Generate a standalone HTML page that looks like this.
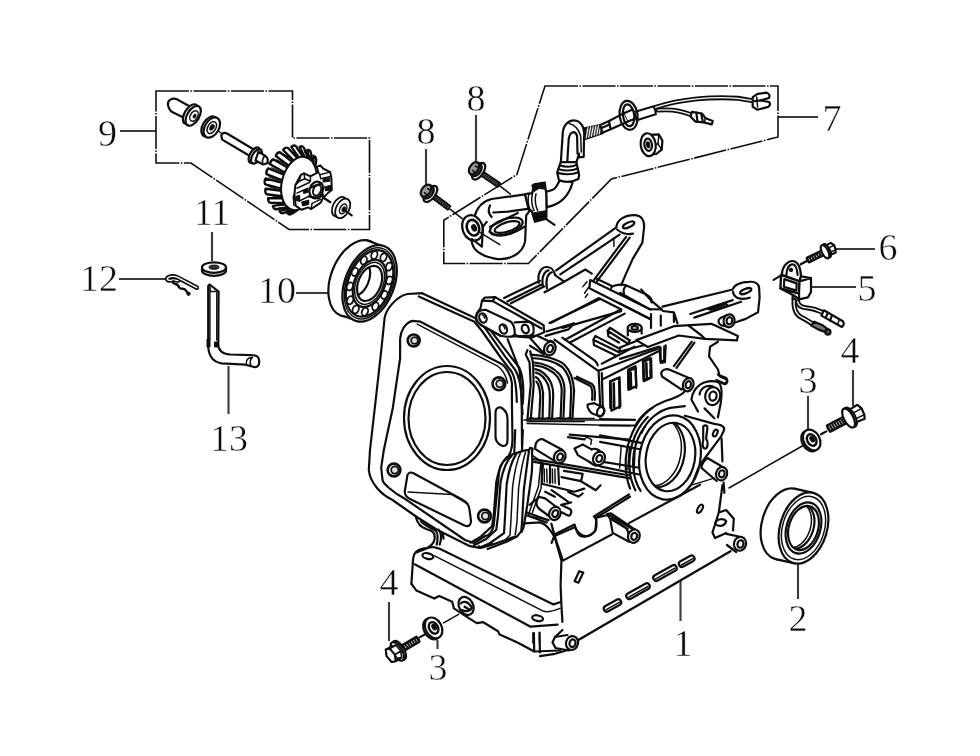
<!DOCTYPE html>
<html><head><meta charset="utf-8">
<style>
html,body{margin:0;padding:0;background:#fff;}
svg{display:block;}
text{font-family:"Liberation Serif",serif;font-size:38px;fill:#111;text-anchor:middle;stroke:#fff;stroke-width:0.45;}
.ld{stroke:#3a3a3a;stroke-width:2.1;fill:none;}
.dd{stroke:#111;stroke-width:1.6;fill:none;stroke-dasharray:33 1.5 1.5 1.5;}
.m{stroke:#111;stroke-width:2.2;fill:none;stroke-linejoin:round;stroke-linecap:round;}
.t{stroke:#111;stroke-width:1.5;fill:none;stroke-linejoin:round;stroke-linecap:round;}
.w{stroke:#111;stroke-width:2.2;fill:#fff;stroke-linejoin:round;stroke-linecap:round;}
.wt{stroke:#111;stroke-width:1.4;fill:#fff;stroke-linejoin:round;stroke-linecap:round;}
.k{fill:#111;stroke:#111;stroke-width:1;}
.b{stroke:#111;stroke-width:2.2;fill:none;stroke-linejoin:round;stroke-linecap:round;}
</style></head>
<body>
<svg width="980" height="756" viewBox="0 0 980 756">
<rect width="980" height="756" fill="#fff"/>
<defs><filter id="soft" x="0" y="0" width="980" height="756" filterUnits="userSpaceOnUse"><feGaussianBlur stdDeviation="0.55"/></filter></defs>
<g filter="url(#soft)">
<g id="labels">
<text x="107.5" y="146">9</text>
<text x="212" y="225">11</text>
<text x="99" y="291">12</text>
<text x="277" y="303">10</text>
<text x="229" y="451">13</text>
<text x="476" y="111">8</text>
<text x="426" y="144">8</text>
<text x="832" y="131">7</text>
<text x="888" y="260">6</text>
<text x="867" y="301">5</text>
<text x="850" y="362.5">4</text>
<text x="808" y="392.5">3</text>
<text x="798" y="631">2</text>
<text x="683" y="656">1</text>
<text x="389" y="595">4</text>
<text x="438" y="680">3</text>
</g>
<g id="leaders" class="ld">
<path d="M120 131H156"/>
<path d="M212 232V261"/>
<path d="M119 279H165"/>
<path d="M296 293H328"/>
<path d="M228.5 366V414"/>
<path d="M476 115V162"/>
<path d="M426 149V185"/>
<path d="M778 117H818"/>
<path d="M834 249H875"/>
<path d="M810 287H856"/>
<path d="M853 370V406"/>
<path d="M808 396V429"/>
<path d="M798 564V599"/>
<path d="M680.5 580V621"/>
<path d="M389 602V641"/>
<path d="M437.5 640V649"/>
</g>
<g id="boxes" class="dd">
<path d="M156 91H292.5V138H369.5V229.5H289L191 163H156Z"/>
<path d="M545 86H778V137L611.4 179L528.4 263.5H443.8V220.2L516.9 174.5Z"/>
</g>
<g id="p01a_flange">
<!-- outer flange plate -->
<path class="w" d="M374.8 408L381.3 350L384.6 318C386 309 397 296 407.4 294L422.1 293.2L477.7 319.3L485.8 329.1L505.4 356.8L515.2 369.9C519 376 521 385 521.7 399L522 446L506 460L496 486L494.5 524L480 548L470 546.2L437.5 530L417.5 517.5L392.5 500C380 494 370 482 368.8 470L370 450Z" style="stroke:none"/>
<path class="m" d="M522 446L521.7 399C521 385 519 376 515.2 369.9L505.4 356.8L485.8 329.1L477.7 319.3L422.1 293.2L407.4 294C397 296 386 309 384.6 318L381.3 350L374.8 408L370 450L368.8 470C370 482 380 494 392.5 500L417.5 517.5L437.5 530L470 546.2L480 548L492 543"/>
<path class="m" d="M418.8 296.5L474.4 321.7L482 331L501 358L511.5 371.5C515 377 516.5 388 516.8 402"/>
<!-- gasket face -->
<path class="m" d="M392.8 408L396 386L400.1 358.5V339C400.5 331 405 323 412.3 320.9L420.5 321.7L500.5 363.4C506 366 511 375 511.9 383V402.6L512.5 440C512 452 508 458 505 460C500 464 499 470 498.8 475L495 512.5L493.8 525C492 533 488 536 485 536.2L473.8 543L465 540L405 498.8C392 492 383 483 382.5 480L381.2 467.5L383.8 450Z"/>
<path class="t" d="M417.2 324.2L497.2 365.8C502 368.5 506.5 376 507.5 383"/>
<!-- bore -->
<ellipse class="m" cx="447" cy="418" rx="43" ry="52"/>
<ellipse class="m" cx="447" cy="418.5" rx="38.5" ry="46.5"/>
<!-- bolt holes -->
<circle class="m" cx="413.7" cy="340.5" r="6" style="stroke-width:2.6"/><circle class="t" cx="414.5" cy="340.5" r="3.4" style="fill:#ddd;stroke-width:1.8"/>
<circle class="m" cx="498.9" cy="383.8" r="6.4" style="stroke-width:2.6"/><circle class="t" cx="499.8" cy="383.8" r="3.6" style="fill:#ddd;stroke-width:1.8"/>
<circle class="m" cx="394" cy="470" r="6.4" style="stroke-width:2.6"/><circle class="t" cx="394.8" cy="470" r="3.6" style="fill:#ddd;stroke-width:1.8"/>
<circle class="m" cx="484.5" cy="516" r="6.4" style="stroke-width:2.6"/><circle class="t" cx="485.3" cy="516" r="3.6" style="fill:#ddd;stroke-width:1.8"/>
<!-- slot -->
<path class="m" d="M495.5 413C495.5 408 499 406 502.5 408.5C506 411 507.5 414 507.5 419V440C507.5 445 505 447 501.5 445.5C498 444 495.5 441 495.5 436Z"/>
<!-- pushrod window -->
<path class="m" d="M407 478C407 473.5 409.5 471.5 413 473L462 499.5C466.5 502 469 505 469.5 509.5L471 521C471 525.5 468.5 527 464.5 525.5L410 499C406 497 404.5 494.5 404.8 491Z"/>
<path class="t" d="M408 492L452 494.5M452 494.5L468 504"/>

</g>
<g id="p01b_toparm">
<path class="w" d="M 616.3 227.0 C 617.1 219.7 624.5 215.1 634.3 215.1 C 641.6 215.1 644.4 220.5 644.1 227.0 L 642.4 242.6 L 632.7 258.9 L 626.1 273.6 L 621.2 285.0" />
<ellipse class="m" cx="628.6" cy="224.9" rx="6.2" ry="2.4" transform="rotate(-25 628.6 224.9)" />
<path class="m" d="M 617.1 229.5 Q 624.5 235.7 633.0 233.6" />
<path class="m" d="M 616.3 227.4 L 556.2 270.3 M 619.6 234.7 L 560.3 274.4" />
<path class="m" d="M 626.1 236.8 L 593.8 280.1 M 629.7 237.7 L 597.1 281.1" />
<path class="t" d="M 613.9 237.7 L 613.9 246.6" />
<path class="w" d="M 538.8 283.0 C 537.1 273.6 541.2 267.4 546.1 267.0 C 550.2 266.7 554.0 269.5 555.1 275.2 L 564.1 281.7 L 544.5 292.3" />
<path class="m" d="M 542.9 285.8 C 541.2 276.8 544.5 271.1 548.6 270.3 M 546.9 288.3 C 545.3 279.3 547.8 273.6 551.8 272.3" />
<path class="m" d="M 504.1 298.0 L 540.0 280.8 M 507.3 301.6 L 541.6 284.4 M 510.9 303.3 L 544.1 286.5" />
<path class="m" d="M 564.1 281.7 L 585.3 269.5 L 591.8 273.6" />
<path class="m" d="M 590.2 280.1 L 650.6 309.5 M 590.2 280.1 L 589.4 288.3 L 650.6 319.3 M 596.7 278.8 L 611.4 285.8" />
<path class="m" d="M 611.2 288.0 C 612.0 285.0 622.5 283.5 626.5 285.5 L 646.2 294.5 C 650.0 296.5 652.0 299.5 651.5 302.5 M 626.5 285.5 C 624.0 287.5 623.0 290.5 624.0 293.5" />
<path class="t" d="M 582.9 286.6 L 586.9 281.7 M 584.5 293.2 L 588.6 287.4 M 585.3 297.2 L 587.8 294.0" />
<path class="m" d="M 549.4 322.9 L 600.0 298.9 M 562.4 327.9 L 621.2 311.1" />
</g>
<g id="p01c_rightarm">
<path class="w" d="M 662.4 306.6 L 732.7 289.5 C 734.3 284.6 740.8 282.1 749.0 281.8 C 755.5 281.3 758.8 283.8 759.1 287.9 L 759.6 297.7 L 758.0 312.3 L 745.7 318.9 L 735.1 322.5" />
<ellipse class="m" cx="745.7" cy="291.1" rx="6" ry="2.2" transform="rotate(-22 745.7 291.1)" />
<path class="m" d="M 733.0 291.9 C 734.3 297.7 739.2 300.6 749.8 297.7" />
<path class="m" d="M 732.7 300.1 L 690.2 314.0 M 741.1 301.7 L 694.3 317.6 M 709.0 309.4 L 726.1 303.9 L 727.8 305.8 L 711.4 311.0" />
<path class="w" d="M 726.9 315.3 L 720.4 318.1 C 717.6 319.7 718.0 323.4 720.9 325.1 L 727.8 326.7" />
<ellipse class="w" cx="729.1" cy="320.8" rx="5.5" ry="6.5" transform="rotate(10 729.1 320.8)" />
<ellipse class="m" cx="729.4" cy="320.8" rx="2.8" ry="3.6" transform="rotate(10 729.4 320.8)" />
<path class="m" d="M 641.2 289.5 L 650.7 300.1 L 661.6 309.4" />
<path class="m" d="M 620.0 292.8 L 649.4 309.1 L 661.6 309.4 M 620.0 303.4 L 650.2 318.9 M 651.0 314.0 L 651.0 327.9 M 660.8 315.6 L 660.8 325.7 M 662.8 311.0 L 673.9 312.3 L 677.5 323.4 M 673.9 312.3 L 673.9 322.1" />
<path class="m" d="M 627.8 327.9 L 627.8 335.5 M 641.6 327.9 L 641.6 333.6" />
<ellipse class="w" cx="634.7" cy="327.9" rx="7" ry="4" transform="rotate(0 634.7 327.9)" />
<ellipse class="m" cx="634.7" cy="327.9" rx="3.2" ry="1.8" transform="rotate(0 634.7 327.9)" />
<path class="w" d="M 636.3 340.1 L 673.9 326.2 L 711.4 323.8 L 737.9 336.0 L 736.9 340.4 L 704.9 338.8 L 678.8 335.5 L 647.8 347.0 Z" />
<path class="m" d="M 688.6 325.7 L 701.6 335.5 L 704.9 338.8" />
<path class="m" d="M 620.0 347.4 L 636.3 340.9 M 620.0 358.9 L 659.2 346.6 L 660.8 363.0 L 664.9 362.1 L 665.7 345.3 M 620.0 351.5 L 644.5 345.0" />
<path class="m" d="M 642.9 361.3 L 650.2 358.1 L 651.0 377.7 L 643.7 381.2 Z M 646.1 363.3 L 646.9 378.0" />
<path class="m" d="M 628.2 369.5 L 635.5 366.2 L 636.3 387.9 M 629.5 370.3 L 629.8 387.9" />
<path class="m" d="M 691.8 341.7 L 673.9 366.2 M 694.4 342.7 L 676.5 367.9" />
<path class="m" d="M 718.0 341.7 L 710.1 346.6 L 709.0 356.4 L 718.0 369.5 L 719.6 376.0" />
<path class="m" d="M 718.0 374.7 L 725.8 377.7 C 728.1 379.3 726.9 383.9 724.2 383.2 L 716.3 380.1" />
</g>
<g id="p01d_crank">
<path class="m" d="M 635.1 426.3 C 640.8 414.1 653.9 405.1 665.3 401.0 C 673.5 398.6 681.6 396.1 684.9 391.2" />
<path class="m" d="M 641.6 432.9 C 647.3 419.0 658.8 410.8 670.2 407.9 L 684.9 406.2" />
<path class="m" d="M 649.0 438.6 C 653.9 425.5 665.3 417.3 678.4 416.5" />
<path class="m" d="M 600.0 419.0 L 635.1 419.8 M 600.0 425.5 L 634.3 425.5 M 600.0 435.3 L 646.5 443.8 M 600.0 441.8 L 644.1 450.0 M 600.0 461.4 L 640.8 468.0 M 600.0 466.3 L 639.2 474.5" />
<path class="t" d="M 621.2 446.7 L 619.6 468.0 M 629.4 446.7 L 627.8 469.6 M 635.1 448.4 L 634.0 471.2" />
<path class="w" d="M 684.9 415.7 L 714.3 423.9 C 721.6 424.7 725.4 426.8 723.8 430.7 L 720.8 436.9 L 706.1 456.5 L 698.0 468.0" />
<path class="m" d="M 703.2 426.3 C 705.3 424.7 707.8 425.5 707.4 428.0 L 706.1 438.6 C 708.6 441.8 707.8 448.0 705.3 448.7 C 702.9 448.7 702.0 445.1 703.2 440.2 Z" />
<ellipse class="m" cx="715.3" cy="433.0" rx="2" ry="3.6" transform="rotate(25 715.3 433.0)" />
<path class="m" d="M640.7 490.8 L639.3 488.7 L638.1 486.4 L637.1 484.0 L636.1 481.5 L635.3 478.9 L634.6 476.2 L634.0 473.4 L633.6 470.6 L633.3 467.7 L633.1 464.8 L633.1 461.9 L633.2 458.9 L633.5 456.0 L633.9 453.0 L634.4 450.1 L635.1 447.2 L635.9 444.3 L636.8 441.6 L637.9 438.8 L639.1 436.2 L640.4 433.6 L641.8 431.1 L643.3 428.8 L644.9 426.5"/>
<path class="m" d="M635.4 490.3 L634.1 487.5 L633.0 484.7 L632.0 481.7 L631.1 478.6 L630.4 475.4 L629.9 472.2 L629.6 468.8 L629.4 465.5 L629.4 462.1 L629.6 458.7 L629.9 455.2 L630.4 451.8 L631.0 448.4 L631.9 445.1 L632.8 441.8 L634.0 438.6 L635.2 435.5 L636.7 432.5 L638.2 429.5 L639.9 426.8 L641.7 424.1 L643.7 421.6 L645.7 419.2 L647.8 417.1"/>
<path class="m" d="M630.1 488.6 L628.9 485.2 L627.9 481.7 L627.0 478.1 L626.4 474.4 L626.0 470.6 L625.7 466.8 L625.7 462.9 L625.8 459.0 L626.2 455.1 L626.8 451.2 L627.5 447.3 L628.5 443.5 L629.6 439.7 L631.0 436.1 L632.5 432.5 L634.1 429.1 L636.0 425.8 L638.0 422.6 L640.1 419.7 L642.4 416.9 L644.7 414.3 L647.2 411.9 L649.8 409.7 L652.5 407.8"/>
<ellipse class="w" cx="670" cy="457.5" rx="30.5" ry="42.5" transform="rotate(10 670 457.5)"/>
<ellipse class="m" cx="670.5" cy="457" rx="24.5" ry="34.5" transform="rotate(10 670.5 457)"/>
<clipPath id="crkclip"><ellipse cx="670.5" cy="457" rx="24.5" ry="34.5" transform="rotate(10 670.5 457)"/></clipPath>
<g clip-path="url(#crkclip)"><ellipse class="m" cx="660" cy="453" rx="24.5" ry="34.5" transform="rotate(10 660 453)"/><ellipse class="t" cx="656.5" cy="451.5" rx="24.5" ry="34.5" transform="rotate(10 656.5 451.5)"/></g>
<path class="t" d="M 698.0 468.0 L 691.4 485.1 L 714.3 478.1" />
<path class="m" d="M 707.8 458.2 L 721.1 466.0 M 701.6 468.0 L 716.7 481.0" />
<path class="m" d="M 707.8 458.2 C 704.5 459.8 701.2 464.7 701.6 468.0" />
<ellipse class="w" cx="721.6" cy="473.7" rx="5.5" ry="6.8" transform="rotate(15 721.6 473.7)" />
<ellipse class="m" cx="721.8" cy="473.8" rx="2.8" ry="3.6" transform="rotate(15 721.8 473.8)" />
<path class="w" d="M 661.2 373.3 C 662.0 369.2 666.9 368.4 670.2 370.0 L 691.4 379.0 L 681.6 389.6 L 662.0 376.5 Z" />
<ellipse class="w" cx="688.2" cy="384.7" rx="5.2" ry="6.8" transform="rotate(20 688.2 384.7)" />
<ellipse class="m" cx="688.3" cy="384.7" rx="2.6" ry="3.6" transform="rotate(20 688.3 384.7)" />
<path class="m" d="M 691.4 399.4 C 693.1 386.3 704.5 379.0 717.6 381.8 C 721.6 383.9 722.4 391.2 720.8 402.7 L 717.9 417.3 M 691.4 399.4 L 698.0 411.6 M 704.5 408.4 L 714.3 418.2" />
<ellipse class="w" cx="712.7" cy="396.1" rx="7.5" ry="9" transform="rotate(10 712.7 396.1)" />
<ellipse class="m" cx="713.0" cy="396.1" rx="3.6" ry="4.6" transform="rotate(10 713.0 396.1)" />
<path class="m" d="M 699.6 394.5 C 700.4 388.0 706.1 384.7 712.7 386.3" />
<path class="m" d="M 720.0 376.5 L 725.7 379.0 C 728.7 380.6 727.0 385.0 724.1 384.0 L 718.4 381.4" />
<path class="m" d="M 721.6 438.6 L 722.4 461.4 M 723.6 482.7 L 724.4 492.9" />
<path class="m" d="M 610.6 381.4 L 619.6 377.3 L 620.4 406.2 L 611.4 410.8 Z M 613.9 383.4 L 614.4 407.9" />
<path class="m" d="M 628.6 370.0 L 629.1 389.6 L 636.2 386.3 L 635.9 370.0 M 643.3 370.0 L 643.8 380.1 L 650.6 377.3 L 650.3 370.0" />
</g>
<g id="p01e_box">
<path class="m" d="M 551.2 322.9 L 598.6 298.1 L 621.4 309.5 M 546.3 331.5 L 574.1 323.4 L 568.4 329.4 L 545.5 335.9" />
<path class="m" d="M 565.1 339.7 L 620.6 309.5 M 570.0 342.5 L 624.7 313.6" />
<path class="m" d="M 554.5 339.7 L 597.8 370.7 M 562.3 337.6 L 594.5 360.4 C 596.1 361.7 597.3 363.0 597.8 365.3" />
<path class="m" d="M 598.6 370.7 L 657.3 349.0 M 601.8 363.7 L 634.5 346.7 M 602.2 379.4 L 659.0 351.1" />
<path class="m" d="M 598.6 370.7 L 600.2 406.6 M 601.8 373.2 L 602.8 406.6" />
<path class="m" d="M 593.3 339.7 L 595.3 335.9 L 620.1 349.0 L 619.0 352.3 Z M 593.3 339.7 L 594.0 345.1 L 615.7 355.5" />
<path class="m" d="M 607.6 330.7 L 610.0 327.8 L 629.9 340.5 L 628.0 343.8 Z M 607.7 331.0 L 608.4 336.4 L 619.0 342.5" />
<path class="m" d="M 610.0 381.3 L 619.0 377.7 L 619.5 407.9 M 610.0 381.3 L 610.3 407.9 M 613.6 383.3 L 613.9 407.9" />
<path class="m" d="M 628.0 371.5 L 635.8 367.9 L 636.1 386.2 L 628.3 389.8 Z M 630.9 372.8 L 631.2 387.5" />
<path class="m" d="M 643.5 361.7 L 651.1 358.5 L 651.6 377.2 L 644.0 380.5 Z M 646.4 363.0 L 646.7 378.4" />
<path class="m" d="M 660.6 347.4 L 660.6 361.7 L 664.2 360.4 L 664.2 346.7" />
<path class="m" d="M 533.3 334.0 L 547.1 340.8 M 530.0 345.7 L 543.9 354.4" />
<ellipse class="w" cx="549.6" cy="347.9" rx="5.5" ry="7" transform="rotate(15 549.6 347.9)" />
<ellipse class="m" cx="549.9" cy="348.0" rx="2.8" ry="3.6" transform="rotate(15 549.9 348.0)" />
<path class="m" d="M 574.5 378.0 L 590.0 385.7 C 592.1 387.3 592.8 391.4 592.1 399.9 M 576.9 376.7 L 592.1 384.1 C 594.7 386.2 595.4 391.4 594.7 399.9" />
<path class="w" d="M 587.6 404.5 C 586.7 407.8 590.0 412.7 594.1 414.3 L 600.6 416.2 C 604.7 414.3 605.5 409.4 602.2 406.9 L 594.1 403.2 Z" />
<ellipse class="m" cx="600.6" cy="411.8" rx="3.5" ry="5" transform="rotate(20 600.6 411.8)" />
</g>
<g id="p01f_fins">
<path class="m" d="M 507.6 339.2 L 519.0 368.6 C 521.4 378.4 520.9 398.0 522.6 414.3" />
<path class="m" d="M 489.6 329.1 L 506.2 350.9 L 519.0 367.3 C 523.6 376.7 524.2 388.2 522.6 404.5" />
<path class="m" d="M 527.4 350.1 L 525.7 354.6 L 529.6 362.5 L 530.7 385.0 L 527.4 419.3 M 530.2 351.2 L 533.0 362.5 L 533.7 385.0 L 530.7 419.3" />
<path class="m" d="M 530.7 354.6 C 543.1 355.2 557.7 359.1 564.5 364.7 C 570.1 370.4 573.5 379.4 574.1 390.6 L 572.4 418.7" />
<path class="m" d="M 531.9 358.0 C 543.1 358.6 555.5 361.9 562.2 367.0 C 567.3 372.1 570.7 380.5 571.2 390.6 L 570.1 418.7" />
<path class="m" d="M 534.1 362.5 C 544.2 363.1 554.4 368.1 560.0 374.9 C 563.4 379.9 564.7 385.0 564.5 390.6 L 563.4 418.7" />
<path class="m" d="M 535.2 365.3 C 544.2 366.4 552.7 370.9 557.7 377.1 C 560.9 382.2 561.8 386.1 561.7 390.6 L 560.6 418.7" />
<path class="m" d="M 535.2 369.2 C 542.0 370.4 547.6 376.0 551.0 382.7 C 553.0 387.8 553.5 391.7 553.2 396.2 L 552.1 418.7" />
<path class="m" d="M 535.8 372.6 C 540.9 373.7 545.4 378.8 548.2 385.0 C 549.6 389.5 550.1 392.9 549.9 397.4 L 549.3 418.7" />
<path class="m" d="M 535.8 377.1 C 539.2 378.8 542.0 385.0 543.1 392.9 L 542.6 418.7" />
<path class="m" d="M 536.4 381.6 C 538.6 383.9 540.0 389.5 540.3 396.2 L 539.2 418.7" />
<path class="t" d="M 527.4 419.3 L 531.9 417.6 L 535.2 419.3 L 539.2 417.6 L 542.6 419.3 L 549.3 417.6 L 552.1 419.3 L 560.6 417.6 L 563.4 419.3 L 570.1 417.6 L 572.4 419.3" />
<path class="t" d="M 528.0 418.4 L 594.1 418.4 M 527.1 421.6 L 584.3 421.6" />
</g>
<g id="p01g_lowfins">
<path class="m" d="M 515.2 430.0 L 514.3 452.3 M 522.9 430.0 L 522.0 449.3" />
<path class="m" d="M 506.6 457.5 L 513.4 454.1 L 523.8 450.6 L 529.3 449.9 L 530.0 447.9 L 532.7 448.6 L 532.0 452.3" />
<path class="m" d="M 506.6 457.5 C 501.4 461.8 498.8 469.5 496.3 481.6 L 493.7 516.0 L 492.0 526.3 L 480.8 536.6 L 470.5 542.6" />
<path class="m" d="M 511.7 455.8 C 506.2 460.9 503.1 469.5 500.6 481.6 L 498.0 516.0 L 496.3 529.7 L 485.9 539.2 L 473.9 545.2" />
<path class="m" d="M 516.0 454.4 C 511.7 460.9 508.6 471.3 506.6 485.0 L 504.9 519.4 L 504.0 533.1 L 489.4 543.5 L 479.1 547.8" />
<path class="t" d="M 520.3 453.2 C 516.9 460.9 514.3 473.0 512.6 486.7 L 510.9 521.1 L 510.0 534.9 L 505.2 540.0" />
<path class="t" d="M 525.5 452.3 C 522.9 460.9 520.3 474.7 518.6 488.4 L 516.9 522.8 L 515.2 534.9" />
<path class="m" d="M 528.9 451.5 C 527.5 460.9 525.5 476.4 523.8 490.2 L 522.0 522.8 L 521.2 531.4 L 516.9 536.6 L 506.6 541.7 L 487.7 549.0" />
<path class="m" d="M 532.0 452.3 C 532.7 464.4 531.5 476.4 530.6 481.6 L 527.2 505.6 L 523.8 526.3 L 521.7 531.8" />
<path class="t" d="M 533.2 455.8 L 541.0 461.8 L 538.4 486.7 L 529.8 510.8 L 528.1 516.0 L 548.7 519.7 M 535.8 457.5 L 543.5 463.5 L 541.0 488.4 L 532.4 512.5" />
<path class="w" d="M 535.3 449.1 C 534.5 442.9 538.6 438.0 542.7 439.3 L 562.2 449.7 L 554.9 461.1 Z" />
<ellipse class="w" cx="559.8" cy="456.7" rx="5.6" ry="6.8" transform="rotate(25 559.8 456.7)" />
<ellipse class="m" cx="560.1" cy="456.9" rx="2.8" ry="3.6" transform="rotate(25 560.1 456.9)" />
<path class="m" d="M 582.7 444.5 L 591.6 449.4 M 577.8 455.1 L 590.8 462.8 M 582.7 444.5 L 574.5 448.6 L 577.8 455.1" />
<path class="t" d="M 584.3 439.6 L 586.7 437.1 L 591.6 439.6 L 590.8 444.5" />
<ellipse class="w" cx="599.0" cy="458.4" rx="5.8" ry="7" transform="rotate(25 599.0 458.4)" />
<ellipse class="m" cx="599.3" cy="458.5" rx="2.8" ry="3.6" transform="rotate(25 599.3 458.5)" />
<path class="m" d="M 591.6 449.4 C 594.1 447.8 599.0 449.4 600.6 451.8 M 590.8 462.8 C 592.4 464.9 596.5 466.0 599.0 465.4" />
<path class="m" d="M 533.7 459.2 L 630.0 475.5 M 534.0 461.8 L 630.0 478.4" />
<path class="m" d="M 569.6 434.7 L 630.0 439.6 M 568.0 437.1 L 584.3 439.3" />
<path class="t" d="M 523.9 420.0 L 630.0 420.0 M 527.1 423.6 L 630.0 425.7" />
<path class="m" d="M 541.8 464.1 L 541.8 483.7 M 550.0 465.7 L 550.0 482.9 M 558.2 467.3 L 559.0 484.5 M 541.8 483.7 L 574.5 491.8 L 584.3 488.6 M 561.4 477.1 L 581.0 481.2 L 582.7 473.9 L 563.9 470.9 M 581.0 481.2 L 595.7 490.2 L 600.6 485.3 M 568.0 491.8 L 578.6 496.7 L 582.7 493.5" />
<path class="t" d="M 544.3 469.0 L 544.3 482.0 M 546.7 469.0 L 547.1 482.4 M 552.4 469.0 L 552.6 482.9 M 554.9 469.0 L 555.2 483.3" />
<path class="w" d="M 538.6 496.7 C 535.3 501.6 536.1 506.5 539.4 509.0 L 551.6 518.0 L 559.0 509.0 L 545.1 498.4 Z" />
<ellipse class="w" cx="554.9" cy="513.4" rx="5.6" ry="6.8" transform="rotate(25 554.9 513.4)" />
<ellipse class="m" cx="555.2" cy="513.6" rx="2.8" ry="3.6" transform="rotate(25 555.2 513.6)" />
<path class="m" d="M 526.3 512.2 L 548.4 520.4 M 529.6 504.9 L 538.6 497.6 M 527.1 515.5 L 546.7 522.5" />
<path class="w" d="M 561.4 504.9 L 569.9 509.0 C 572.5 510.6 570.9 516.3 568.0 515.5 L 560.6 511.8" />
<path class="m" d="M 545.1 491.8 L 554.9 496.7 M 551.6 490.2 L 568.0 501.6 M 561.4 504.9 L 571.2 502.4" />
<path class="m" d="M 554.9 534.3 L 574.5 524.5 C 576.1 532.7 584.3 539.2 591.6 534.3 C 596.5 531.0 597.3 524.5 595.7 518.0 L 616.9 504.9 M 595.7 518.0 L 608.8 514.7" />
<path class="m" d="M 608.8 514.7 L 630.0 526.1 M 612.0 519.6 L 626.7 528.6 L 630.0 537.6 M 616.9 504.9 L 630.0 496.7" />
<path class="m" d="M 554.9 534.3 L 551.6 542.9" />
</g>
<g id="p01h_base">
<path class="m" d="M 411.4 583.9 L 413.1 558.6 C 413.4 553.7 416.3 549.9 422.9 548.6 L 433.5 547.0 L 439.2 548.6 L 553.5 604.4 L 560.0 602.2" />
<path class="t" d="M 434.6 555.8 L 543.7 611.3 C 546.9 612.4 551.8 611.6 560.0 608.4" />
<path class="m" d="M 414.7 564.3 L 530.6 626.7 L 557.6 624.7" />
<path class="m" d="M 411.4 583.9 L 416.3 590.4 L 434.3 598.6 L 439.2 596.1 L 452.2 601.8 L 453.9 608.4 L 463.7 614.9 L 476.7 623.1 L 483.3 622.2 L 498.0 631.2 L 499.6 634.5 L 514.3 641.0 L 520.8 644.3 L 534.2 651.5 L 560.0 650.5" />
<ellipse class="m" cx="427.8" cy="556.1" rx="5.5" ry="2.8" transform="rotate(12 427.8 556.1)" />
<ellipse class="m" cx="537.6" cy="618.2" rx="5.5" ry="2.8" transform="rotate(12 537.6 618.2)" />
<ellipse class="m" cx="466.1" cy="605.9" rx="7" ry="9.5" transform="rotate(-28 466.1 605.9)" />
<path class="m" d="M 460.7 603.5 C 463.7 600.2 468.6 601.8 471.8 607.6 M 462.0 610.0 C 465.3 611.6 469.4 611.6 471.8 608.4 M 464.5 606.7 L 470.2 610.0" />
<path class="m" d="M 533.9 633.2 L 534.2 651.5 M 539.6 632.5 L 539.9 652.4" />
<path class="m" d="M 415.8 516.8 C 417.3 523.8 421.8 527.8 426.8 529.2 C 432.7 530.7 435.2 532.7 434.7 538.7 C 434.2 543.6 428.7 548.1 424.8 549.1 L 416.3 552.4 M 420.8 521.0 C 424.8 525.8 430.7 527.8 435.7 530.7 C 437.9 533.2 438.2 537.7 436.7 544.6 M 438.7 529.7 C 441.5 533.2 441.7 538.7 439.7 544.6 M 442.6 532.7 L 443.6 538.7" />
<path class="m" d="M 478.4 546.3 L 481.6 547.6 L 491.4 545.0 L 514.3 536.9" />
</g>
<g id="p01i_panel">
<path class="m" d="M 551.4 523.9 L 554.7 536.1 L 575.1 527.1 L 577.6 532.9 C 580.8 538.6 589.0 537.8 595.5 530.4 L 596.3 519.0 L 593.9 516.5 L 629.0 494.5" />
<path class="m" d="M 554.7 536.1 L 562.9 560.6 L 611.8 534.5 M 629.0 523.1 L 700.0 484.7" />
<path class="m" d="M 606.9 514.1 L 611.0 513.3 L 638.0 531.7 M 610.2 519.0 L 612.7 532.9 L 629.0 541.8 M 611.8 517.7 L 636.3 530.7 M 606.9 514.1 L 610.2 519.0" />
<path class="t" d="M 613.5 520.6 L 628.2 528.8" />
<ellipse class="w" cx="633.9" cy="536.1" rx="5.8" ry="6.8" transform="rotate(20 633.9 536.1)" />
<ellipse class="m" cx="634.2" cy="536.3" rx="2.8" ry="3.6" transform="rotate(20 634.2 536.3)" />
<path class="m" d="M 579.2 571.2 L 583.3 572.5 L 578.4 582.7 L 574.6 581.3 Z" />
<path class="m" d="M 722.5 485.0 L 718.8 512.5 L 726.2 510.0 L 733.8 518.8 L 733.0 530.5 M 718.8 512.5 L 712.5 532.5 L 715.0 538.0 L 726.2 533.0" />
<path class="m" d="M 715.0 523.8 C 716.2 518.8 723.8 517.5 726.2 521.2 C 725.0 526.2 718.8 527.5 715.0 523.8" />
<path class="m" d="M 726.2 533.8 L 738.8 536.5 M 727.0 545.0 L 736.2 552.0" />
<ellipse class="w" cx="740.0" cy="543.8" rx="6" ry="7" transform="rotate(15 740.0 543.8)" />
<ellipse class="m" cx="740.5" cy="544.0" rx="3" ry="3.8" transform="rotate(15 740.5 544.0)" />
<path class="m" d="M 730.5 551.2 L 577.5 640.5" style="stroke-width:2.4"/>
<path class="m" d="M 555.0 637.0 L 567.5 635.0 M 555.5 648.0 L 568.8 650.5 M 555.0 637.0 L 552.5 642.5 L 555.5 648.0" />
<ellipse class="w" cx="572.0" cy="643.0" rx="6" ry="7" transform="rotate(15 572.0 643.0)" />
<ellipse class="m" cx="572.5" cy="643.2" rx="3" ry="3.8" transform="rotate(15 572.5 643.2)" />
<path class="m" d="M 562.5 630.0 L 555.0 637.0 M 540.0 656.2 L 555.0 653.8 L 566.2 650.5" />
<ellipse class="m" cx="700.0" cy="508.8" rx="2.2" ry="4.5" transform="rotate(30 700.0 508.8)" />
<rect class="m" x="603.0" y="602.5" width="19.0" height="6.0" rx="3.0" transform="rotate(-29 612.5 605.5)"/>
<path class="t" d="M605.0 606.1L620.0 606.1" transform="rotate(-29 612.5 605.5)"/>
<rect class="m" x="625.0" y="588.2" width="26.0" height="6.0" rx="3.0" transform="rotate(-29 638.0 591.2)"/>
<path class="t" d="M627.0 591.9L649.0 591.9" transform="rotate(-29 638.0 591.2)"/>
<rect class="m" x="652.0" y="570.0" width="26.0" height="6.0" rx="3.0" transform="rotate(-29 665.0 573.0)"/>
<path class="t" d="M654.0 573.6L676.0 573.6" transform="rotate(-29 665.0 573.0)"/>
<rect class="m" x="678.2" y="558.2" width="17.0" height="6.0" rx="3.0" transform="rotate(-29 686.8 561.2)"/>
<path class="t" d="M680.2 561.9L693.2 561.9" transform="rotate(-29 686.8 561.2)"/>
<path class="m" d="M 523.9 523.3 L 540.2 522.4 C 546.7 524.1 551.6 531.4 554.9 538.0 L 561.4 560.8 L 560.6 585.3 L 561.4 604.9 L 562.4 622.0" />
<path class="t" d="M 532.9 632.7 L 532.9 642.9 M 539.4 632.7 L 539.4 642.9" />
</g>
<g id="p01y_bracket">
<path class="w" d="M 480.4 308.6 L 482.0 300.7 L 484.8 297.5 L 495.1 297.1 L 543.6 325.2 L 544.1 332.2 L 536.7 335.5 L 514.7 336.3 L 500.8 336.0 L 481.2 325.2 L 476.3 320.3 C 475.5 315.1 477.1 311.8 480.4 308.6 Z" />
<path class="m" d="M 482.0 300.7 L 492.7 301.1 L 541.6 328.5 M 492.7 301.1 L 495.1 297.1" />
<path class="w" d="M 476.3 317.1 C 476.3 311.8 480.4 309.4 486.1 309.9 L 509.0 320.8 C 513.1 322.4 515.2 328.2 514.7 334.4 C 513.1 337.3 509.0 337.6 500.8 335.7 L 481.2 324.9 C 478.0 323.3 476.3 320.8 476.3 317.1 Z" />
<path class="m" d="M 514.7 322.4 L 528.6 321.6 C 532.7 322.4 534.3 326.5 533.5 333.1 L 528.6 337.3 L 518.8 336.7 L 514.7 334.4" />
<ellipse class="m" cx="482.9" cy="318.0" rx="3.6" ry="4.8" transform="rotate(-20 482.9 318.0)" />
<ellipse class="m" cx="503.3" cy="329.0" rx="3.6" ry="4.8" transform="rotate(-20 503.3 329.0)" />
<ellipse class="m" cx="525.3" cy="329.0" rx="3.4" ry="4.4" transform="rotate(-20 525.3 329.0)" />
<path class="t" d="M 484.5 318.0 C 484.5 316.7 483.7 315.4 482.5 314.8 M 504.9 329.0 C 504.9 327.7 504.1 326.4 502.9 325.7" />
<path class="w" d="M 536.7 335.5 L 551.4 342.5 L 543.3 352.7 L 530.2 338.3 Z" />
<ellipse class="w" cx="549.8" cy="348.6" rx="5.6" ry="7" transform="rotate(20 549.8 348.6)" />
<ellipse class="m" cx="550.1" cy="348.7" rx="2.8" ry="3.8" transform="rotate(20 550.1 348.7)" />
</g>
<g id="p02_seal">
<ellipse class="w" cx="785.5" cy="524" rx="23.5" ry="36.5" transform="rotate(17 785.5 524)" />
<path class="w" d="M794.2 488.6L812.2 492.6L794.8 563.4L776.8 559.4Z" style="stroke:none"/>
<path class="m" d="M794.2 488.6L812.2 492.6M794.8 563.4L776.8 559.4"/>
<ellipse class="w" cx="803.5" cy="528" rx="23.5" ry="36.5" transform="rotate(17 803.5 528)" />
<ellipse class="t" cx="803.5" cy="528" rx="20.9" ry="32.5" transform="rotate(17 803.5 528)" />
<ellipse class="m" cx="803.5" cy="528" rx="16.9" ry="26.3" transform="rotate(17 803.5 528)" />
<ellipse class="m" cx="803.5" cy="528" rx="14.6" ry="22.6" transform="rotate(17 803.5 528)" />
<clipPath id="sealclip"><ellipse cx="803.5" cy="528" rx="14.6" ry="22.6" transform="rotate(17 803.5 528)"/></clipPath>
<g clip-path="url(#sealclip)"><ellipse class="m" cx="799.0" cy="526.5" rx="14.6" ry="22.6" transform="rotate(17 799.0 526.5)" /><ellipse class="t" cx="796.0" cy="525.5" rx="14.6" ry="22.6" transform="rotate(17 796.0 525.5)" /></g>
</g>
<g id="p04l">
<path class="t" d="M443.6 622.9 L458.6 614.3" />
<ellipse class="w" cx="431.9" cy="628.9" rx="8" ry="11" transform="rotate(-29 431.9 628.9)" style="stroke-width:2.2"/>
<ellipse class="w" cx="433.6" cy="627.9" rx="8" ry="11" transform="rotate(-29 433.6 627.9)" style="stroke-width:2.2"/>
<ellipse class="m" cx="433.6" cy="627.9" rx="4.4" ry="6.1" transform="rotate(-29 433.6 627.9)" style="stroke-width:2.4"/>
<ellipse class="k" cx="434.5" cy="627.4" rx="2.0" ry="3.1" transform="rotate(-29 433.6 627.9)"/>
<path class="m" d="M420.0 637.1 L425.3 634.3" />
<path class="w" d="M400.8 652.9L419.4 641.9Q419.2 638.5 416.4 636.7L397.8 647.7Z" style="fill:#eee"/>
<ellipse class="t" cx="416.6" cy="640.1" rx="1.0" ry="3.0" transform="rotate(-31 416.6 640.1)" style="stroke-width:1.3"/>
<ellipse class="t" cx="414.3" cy="641.4" rx="1.0" ry="3.0" transform="rotate(-31 414.3 641.4)" style="stroke-width:1.3"/>
<ellipse class="t" cx="412.1" cy="642.7" rx="1.0" ry="3.0" transform="rotate(-31 412.1 642.7)" style="stroke-width:1.3"/>
<ellipse class="t" cx="409.8" cy="644.1" rx="1.0" ry="3.0" transform="rotate(-31 409.8 644.1)" style="stroke-width:1.3"/>
<ellipse class="t" cx="407.6" cy="645.4" rx="1.0" ry="3.0" transform="rotate(-31 407.6 645.4)" style="stroke-width:1.3"/>
<ellipse class="t" cx="405.4" cy="646.7" rx="1.0" ry="3.0" transform="rotate(-31 405.4 646.7)" style="stroke-width:1.3"/>
<ellipse class="t" cx="403.1" cy="648.0" rx="1.0" ry="3.0" transform="rotate(-31 403.1 648.0)" style="stroke-width:1.3"/>
<ellipse class="w" cx="399.3" cy="650.3" rx="4.7" ry="10.5" transform="rotate(-31 399.3 650.3)" style="stroke-width:2.2"/>
<ellipse class="w" cx="397.4" cy="651.4" rx="4.7" ry="10.5" transform="rotate(-31 397.4 651.4)" style="stroke-width:2.2"/>
<path class="w" d="M394.8 654.6L395.7 661.2L401.7 657.6L400.8 651.0Z" style="stroke-width:1.6"/>
<path class="w" d="M395.7 661.2L391.6 662.0L397.6 658.4L401.7 657.6Z" style="stroke-width:1.6"/>
<path class="w" d="M391.6 662.0L386.6 656.2L392.6 652.6L397.6 658.4Z" style="stroke-width:1.6"/>
<path class="w" d="M386.6 656.2L385.7 649.6L391.7 646.1L392.6 652.6Z" style="stroke-width:1.6"/>
<path class="w" d="M385.7 649.6L389.8 648.8L395.8 645.2L391.7 646.1Z" style="stroke-width:1.6"/>
<path class="w" d="M389.8 648.8L394.8 654.6L400.8 651.0L395.8 645.2Z" style="stroke-width:1.6"/>
<path class="w" d="M394.8 654.6 L395.7 661.2 L391.6 662.0 L386.6 656.2 L385.7 649.6 L389.8 648.8Z" style="stroke-width:2"/>
</g>
<g id="p04r">
<path class="t" d="M804 445 L729 488" />
<ellipse class="w" cx="810.0" cy="441.0" rx="8" ry="11" transform="rotate(-29 810.0 441.0)" style="stroke-width:2.2"/>
<ellipse class="w" cx="811.7" cy="440.0" rx="8" ry="11" transform="rotate(-29 811.7 440.0)" style="stroke-width:2.2"/>
<ellipse class="m" cx="811.7" cy="440.0" rx="4.4" ry="6.1" transform="rotate(-29 811.7 440.0)" style="stroke-width:2.4"/>
<ellipse class="k" cx="812.6" cy="439.5" rx="2.0" ry="3.1" transform="rotate(-29 811.7 440.0)"/>
<path class="m" d="M821.0 434.3 L826.4 431.4" />
<path class="w" d="M846.9 414.9L826.9 425.4Q827.3 429.3 830.3 431.8L850.3 421.3Z" style="fill:#eee"/>
<ellipse class="t" cx="830.0" cy="427.9" rx="1.0" ry="3.6" transform="rotate(152 830.0 427.9)" style="stroke-width:1.3"/>
<ellipse class="t" cx="832.3" cy="426.7" rx="1.0" ry="3.6" transform="rotate(152 832.3 426.7)" style="stroke-width:1.3"/>
<ellipse class="t" cx="834.6" cy="425.5" rx="1.0" ry="3.6" transform="rotate(152 834.6 425.5)" style="stroke-width:1.3"/>
<ellipse class="t" cx="836.9" cy="424.2" rx="1.0" ry="3.6" transform="rotate(152 836.9 424.2)" style="stroke-width:1.3"/>
<ellipse class="t" cx="839.2" cy="423.0" rx="1.0" ry="3.6" transform="rotate(152 839.2 423.0)" style="stroke-width:1.3"/>
<ellipse class="t" cx="841.5" cy="421.8" rx="1.0" ry="3.6" transform="rotate(152 841.5 421.8)" style="stroke-width:1.3"/>
<ellipse class="t" cx="843.8" cy="420.6" rx="1.0" ry="3.6" transform="rotate(152 843.8 420.6)" style="stroke-width:1.3"/>
<path class="w" d="M845.4 412.1L857.4 404.8L861.6 408.4L864.3 414.7L864.7 418.7L851.8 424.1Z"/>
<path class="t" d="M861.6 408.4L847.6 416.2M864.3 414.7L850.4 421.5"/>
<ellipse class="w" cx="850.4" cy="417.2" rx="4.7" ry="10.5" transform="rotate(152 850.4 417.2)" style="stroke-width:2.2"/>
<ellipse class="w" cx="848.6" cy="418.1" rx="4.7" ry="10.5" transform="rotate(152 848.6 418.1)" style="stroke-width:2.2"/>
</g>
<g id="p05">
<path class="m" d="M806.4 261.3 L800.7 264.3" />
<path class="m" d="M780.7 275.6 L773.6 279.9" />
<path class="w" d="M823.9 249.4L806.8 257.8Q806.6 260.8 809.0 262.4L826.1 254.0Z" style="fill:#eee"/>
<ellipse class="t" cx="809.3" cy="259.4" rx="1.0" ry="2.6" transform="rotate(154 809.3 259.4)" style="stroke-width:1.3"/>
<ellipse class="t" cx="811.6" cy="258.3" rx="1.0" ry="2.6" transform="rotate(154 811.6 258.3)" style="stroke-width:1.3"/>
<ellipse class="t" cx="814.0" cy="257.1" rx="1.0" ry="2.6" transform="rotate(154 814.0 257.1)" style="stroke-width:1.3"/>
<ellipse class="t" cx="816.3" cy="256.0" rx="1.0" ry="2.6" transform="rotate(154 816.3 256.0)" style="stroke-width:1.3"/>
<ellipse class="t" cx="818.6" cy="254.8" rx="1.0" ry="2.6" transform="rotate(154 818.6 254.8)" style="stroke-width:1.3"/>
<ellipse class="t" cx="821.0" cy="253.7" rx="1.0" ry="2.6" transform="rotate(154 821.0 253.7)" style="stroke-width:1.3"/>
<path class="w" d="M822.9 247.4L830.7 242.9L834.1 245.2L835.7 249.8L835.6 252.8L827.1 256.0Z"/>
<path class="t" d="M834.1 245.2L824.3 250.4M835.7 249.8L826.2 254.1"/>
<ellipse class="w" cx="826.8" cy="250.8" rx="3.2" ry="7.2" transform="rotate(154 826.8 250.8)" style="stroke-width:2.2"/>
<ellipse class="w" cx="825.0" cy="251.7" rx="3.2" ry="7.2" transform="rotate(154 825.0 251.7)" style="stroke-width:2.2"/>
<path class="w" d="M781.9 274.9C782.1 266.3 787.9 260.6 792.9 261.0C798.6 262.0 800.7 267.7 801.0 276.3L799.3 281.3Z"/>
<path class="m" d="M786.4 274.9C786.4 268.4 789.3 264.1 792.9 264.3C795.7 264.6 797.1 267.7 797.6 274.9"/>
<circle class="k" cx="791.0" cy="269.9" r="1.8"/>
<path class="w" d="M781.1 274.9L799.6 281.3L799.0 293.7L780.4 288.4Z" style="stroke-width:2.4"/>
<path class="m" d="M784.3 279.1L796.7 283.4L796.4 290.6L783.9 286.7Z" style="stroke-width:2.2"/>
<path class="w" d="M799.6 281.3L811.0 278.0L811.0 292.0L807.9 297.4L799.0 299.4L799.0 293.7Z"/>
<path class="w" d="M801.0 276.3L811.0 278.0L799.6 281.3Z"/>
<path class="w" d="M780.4 288.4L792.9 294.9L799.0 299.4L799.0 293.7Z"/>
<path class="w" d="M792.9 294.9L792.4 298.9L798.1 302.3L799.0 299.4Z"/>
<path class="m" d="M797.6 301.7C798.6 306.3 802.1 307.7 810.7 308.4C816.4 309.1 819.3 311.3 822.9 312.7" style="stroke-width:5.0"/><path class="m" d="M797.6 301.7C798.6 306.3 802.1 307.7 810.7 308.4C816.4 309.1 819.3 311.3 822.9 312.7" style="stroke:#fff;stroke-width:1.3"/>
<path class="m" d="M794.0 300.3C793.6 309.1 795.7 314.9 802.1 317.7C806.4 319.9 810.7 322.7 813.6 324.6" style="stroke-width:5.0"/><path class="m" d="M794.0 300.3C793.6 309.1 795.7 314.9 802.1 317.7C806.4 319.9 810.7 322.7 813.6 324.6" style="stroke:#fff;stroke-width:1.3"/>
<path class="w" d="M823.9 310.3L842.9 321.3Q845.0 324.1 841.9 327.0L821.4 315.6Z"/>
<path class="m" d="M827.9 312.7 L825.7 318.0" />
<path class="m" d="M832.1 315.1 L830.0 320.6" />
<path class="t" d="M839.3 319.4 L837.6 324.6" />
<path class="w" d="M814.3 321.7L822.1 324.9L827.9 329.4L825.0 332.0L818.1 329.4L811.4 325.6Z" style="fill:#777"/>
<circle class="w" cx="827.9" cy="332.0" r="2.6" style="fill:#555"/>
</g>
<g id="p07_sensor">
<path class="w" d="M474.5 216.9 C476.9 207.1 481.8 201.4 491.6 199.0 L525.1 194.4 L530.0 210.4 L526.2 215.3 L525.1 241.4 C522.7 254.5 508.0 261.0 494.9 258.6 C481.8 256.1 472.9 251.2 471.7 241.4Z"/>
<path class="m" d="M493.3 212.5 L508.0 211.7 L527.6 208.8" />
<path class="m" d="M490.0 205.5Q486.7 212.0 491.6 216.9"/>
<ellipse class="w" cx="506.3" cy="226.4" rx="17" ry="7.5" transform="rotate(-18 506.3 226.4)"/>
<ellipse class="m" cx="506.8" cy="227.20000000000002" rx="13" ry="4.6" transform="rotate(-18 506.3 226.4)"/>
<path class="m" d="M490.0 226.7L517.8 212.9"/>
<path class="m" d="M489.5 231.6Q501.4 241.4 524.3 226.7"/>
<ellipse class="w" cx="472.5" cy="227.9" rx="10" ry="13" transform="rotate(-20 472.5 227.9)"/>
<ellipse class="m" cx="473.0" cy="227.9" rx="6" ry="8" transform="rotate(-20 472.5 227.9)" style="stroke-width:2.6"/>
<ellipse class="k" cx="474.0" cy="228.4" rx="2.3" ry="3.3" transform="rotate(-20 472.5 227.9)"/>
<path class="m" d="M472.0 239.0 L481.8 246.7 L483.0 226.7" />
<path class="t" d="M478.6 231.6 L499.8 244.7" />
<path class="m" d="M483.0 226.7 L486.7 221.8" />
<path class="w" d="M525.1 194.4Q529.2 192.8 532.1 193.8L534.1 184.3L544.7 182.7L546.8 197.3L546.3 218.6L534.9 221.8L531.6 210.7L528.9 210.7Z"/>
<path class="k" d="M531.6 185.1L544.7 182.3L545.2 189.2L539.0 188.4L534.1 191.6Z"/>
<path class="k" d="M533.3 212.9L545.5 210.7L545.8 218.6L535.7 221.8Z"/>
<path class="t" d="M528.9 193.8Q526.7 202.2 530.5 210.7"/>
<path class="t" d="M532.4 193.8Q530.3 202.2 534.1 210.7"/>
<path class="t" d="M536.0 193.8Q533.9 202.2 537.7 210.7"/>
<path class="m" d="M545.5 218.6 L554.5 224.8" />
<path class="w" d="M546.3 191.6C556.9 189.2 555.1 188.0 559.7 180.6L572.6 182.2C569.0 196.1 560.8 204.3 546.8 207.1Z"/>
<path class="w" d="M560.8 162.7L562.8 132.4C564.1 122.7 570.6 119.4 576.3 120.7C582.9 122.7 585.3 130.8 584.0 139.0L583.7 156.9L578.8 157.3L579.1 153.7L576.3 162.7Z"/>
<path class="m" d="M567.3 161.8L568.7 139.0C569.8 131.6 574.7 130.0 577.1 135.7L577.5 153.7"/>
<path class="t" d="M569.0 123.5Q577.1 125.1 580.7 135.7L581.2 152.0"/>
<path class="w" d="M560.8 162.2L557.2 172.4L558.9 180.1Q569.0 183.9 578.4 179.0L579.1 174.9L576.3 162.2Z"/>
<path class="m" d="M559.7 165.4Q569.0 168.4 577.1 164.8"/>
<path class="m" d="M558.5 169.2Q569.0 172.1 577.9 168.5"/>
<path class="m" d="M557.4 172.9Q569.0 175.9 578.6 172.3"/>
<path class="w" d="M584.5 128.4L600.0 125.1L602.4 133.3L585.3 139.0Z" style="fill:#444"/>
<path class="t" d="M588.1 127.2L586.1 138.2" style="stroke:#fff;stroke-width:1"/>
<path class="t" d="M590.7 126.7L588.7 137.3" style="stroke:#fff;stroke-width:1"/>
<path class="t" d="M593.3 126.2L591.3 136.5" style="stroke:#fff;stroke-width:1"/>
<path class="t" d="M595.9 125.8L594.0 135.7" style="stroke:#fff;stroke-width:1"/>
<path class="t" d="M598.5 125.3L596.6 134.9" style="stroke:#fff;stroke-width:1"/>
<path class="t" d="M601.1 124.8L599.2 134.1" style="stroke:#fff;stroke-width:1"/>
<path class="w" d="M600.3 125.1L609.0 121.0L624.5 112.9L628.6 121.3L610.6 129.2L602.4 132.8Z"/>
<path class="m" d="M609.0 121.0 L610.6 129.2" />
<path class="m" d="M601.6 127.9 L609.5 124.6" />
<path class="w" d="M634.3 112.0L653.9 106.3L654.7 106.9L655.8 114.3L636.7 120.2Z"/>
<ellipse class="m" cx="628.6" cy="115.3" rx="9" ry="14.6" transform="rotate(-8 628.6 115.3)"/>
<ellipse class="m" cx="628.6" cy="115.3" rx="5.6" ry="11" transform="rotate(-8 628.6 115.3)"/>
<path class="w" d="M624.5 113.2L629.1 111.2L631.8 119.7L628.2 121.3" style="stroke:none"/>
<path class="m" d="M624.5 112.9 L632.7 109.6" />
<path class="m" d="M628.2 121.3 L634.3 119.1" />
<path class="m" d="M655.5 107.4C680.8 98.8 713.5 96.3 738.0 98.3L753.5 100.9" style="stroke-width:5"/>
<path class="m" d="M655.5 107.4C680.8 98.8 713.5 96.3 738.0 98.3L753.5 100.9" style="stroke:#fff;stroke-width:1.2"/>
<path class="m" d="M658.0 110.2C672.7 108.6 684.1 111.8 692.2 115.1" style="stroke-width:4.8"/>
<path class="m" d="M658.0 110.2C672.7 108.6 684.1 111.8 692.2 115.1" style="stroke:#fff;stroke-width:1.2"/>
<path class="w" d="M691.9 111.8L702.0 113.5L705.3 117.9L712.7 121.1L711.8 124.4L703.7 122.4L695.5 121.6L690.6 116.7Z"/>
<path class="m" d="M696.3 112.7 L697.5 121.6" />
<path class="m" d="M701.2 113.5 L702.9 122.1" />
<path class="t" d="M705.3 117.9 L704.5 122.4" />
<path class="w" d="M752.7 97.1L757.6 93.9L766.5 92.7Q770.6 93.9 769.0 98.0L760.8 100.4L769.0 102.0Q771.4 104.5 768.2 106.9L757.6 109.7L752.7 106.9Z"/>
<path class="m" d="M754.3 101.2 L761.6 100.4" />
<path class="t" d="M756.7 97.1 L757.6 106.9" />
<path class="w" d="M650.6 134.9L658.8 134.4L662.4 140.6L661.7 149.6L656.3 154.0L649.8 154.5Z"/>
<path class="t" d="M658.8 134.4 L658.0 143.9" />
<path class="t" d="M658.0 143.9 L661.7 149.6" />
<path class="t" d="M658.0 143.9 L652.2 144.7" />
<ellipse class="w" cx="648.2" cy="144.7" rx="7.5" ry="11.5" transform="rotate(-8 648.2 144.7)"/>
<ellipse class="m" cx="648.2" cy="144.7" rx="3.8" ry="6.2" transform="rotate(-8 648.2 144.7)"/>
<ellipse class="k" cx="648.2" cy="144.7" rx="1.6" ry="3" transform="rotate(-8 648.2 144.7)"/>
</g>
<g id="p08_bolts">
<path class="w" d="M478.5 174.1L497.7 187.1L500.3 183.1L481.2 170.1Z" style="fill:#555;stroke-width:1.6"/>
<path class="t" d="M479.8 175.0L483.1 171.4" style="stroke-width:1.2"/>
<path class="t" d="M481.6 176.2L484.9 172.7" style="stroke-width:1.2"/>
<path class="t" d="M483.4 177.4L486.8 173.9" style="stroke-width:1.2"/>
<path class="t" d="M485.2 178.7L488.6 175.1" style="stroke-width:1.2"/>
<path class="t" d="M487.0 179.9L490.4 176.4" style="stroke-width:1.2"/>
<path class="t" d="M488.9 181.1L492.2 177.6" style="stroke-width:1.2"/>
<path class="t" d="M490.7 182.4L494.0 178.8" style="stroke-width:1.2"/>
<path class="t" d="M492.5 183.6L495.9 180.1" style="stroke-width:1.2"/>
<path class="t" d="M494.3 184.8L497.7 181.3" style="stroke-width:1.2"/>
<path class="t" d="M496.2 186.1L499.5 182.5" style="stroke-width:1.2"/>
<ellipse class="w" cx="478.6" cy="171.3" rx="4.8" ry="9.5" transform="rotate(34 478.6 171.3)" style="stroke-width:2.2"/>
<ellipse class="w" cx="476.1" cy="169.6" rx="4.7" ry="7.2" transform="rotate(34 476.1 169.6)" style="stroke-width:2.4;fill:#555"/>
<ellipse class="w" cx="474.0" cy="168.2" rx="4.2" ry="6.8" transform="rotate(34 474.0 168.2)" style="stroke-width:2.2;fill:#999"/>
<path class="t" d="M472.6 170.3L474.5 171.9M475.4 166.1L477.7 167.3"/>
<path class="t" d="M499.5 185.6 L510.4 194.1" />
<path class="w" d="M430.2 196.7L447.8 209.9L450.6 206.1L433.0 192.9Z" style="fill:#555;stroke-width:1.6"/>
<path class="t" d="M431.4 197.6L434.9 194.3" style="stroke-width:1.2"/>
<path class="t" d="M433.2 199.0L436.7 195.6" style="stroke-width:1.2"/>
<path class="t" d="M434.9 200.3L438.4 196.9" style="stroke-width:1.2"/>
<path class="t" d="M436.7 201.6L440.2 198.2" style="stroke-width:1.2"/>
<path class="t" d="M438.4 202.9L442.0 199.6" style="stroke-width:1.2"/>
<path class="t" d="M440.2 204.2L443.7 200.9" style="stroke-width:1.2"/>
<path class="t" d="M442.0 205.6L445.5 202.2" style="stroke-width:1.2"/>
<path class="t" d="M443.7 206.9L447.2 203.5" style="stroke-width:1.2"/>
<path class="t" d="M445.5 208.2L449.0 204.8" style="stroke-width:1.2"/>
<ellipse class="w" cx="430.4" cy="193.9" rx="4.8" ry="9.5" transform="rotate(37 430.4 193.9)" style="stroke-width:2.2"/>
<ellipse class="w" cx="428.0" cy="192.1" rx="4.7" ry="7.2" transform="rotate(37 428.0 192.1)" style="stroke-width:2.4;fill:#555"/>
<ellipse class="w" cx="426.0" cy="190.6" rx="4.2" ry="6.8" transform="rotate(37 426.0 190.6)" style="stroke-width:2.2;fill:#999"/>
<path class="t" d="M424.5 192.6L426.3 194.3M427.5 188.6L429.7 189.9"/>
<path class="t" d="M449.7 208.8 L462.2 218.6" />
</g>
<g id="p09_shaft">
<!-- pin -->
<path class="w" d="M189.5 106.3L177.5 99.6C172.5 97 167 100.5 168 105C168.8 108.5 170.2 110.8 172.2 112L185 118.3"/>
<ellipse class="w" cx="190.6" cy="114.2" rx="6" ry="11" transform="rotate(31 190.6 114.2)"/>
<ellipse class="w" cx="193.2" cy="115.8" rx="6" ry="11" transform="rotate(31 193.2 115.8)"/>
<ellipse class="t" cx="194" cy="116" rx="3.6" ry="5.6" transform="rotate(31 194 116)"/>
<ellipse class="k" cx="194.6" cy="116.2" rx="1.2" ry="2" transform="rotate(31 194.6 116.2)"/>
<!-- washer -->
<ellipse class="w" cx="209.6" cy="126.6" rx="7" ry="11" transform="rotate(31 209.6 126.6)"/>
<ellipse class="w" cx="211.8" cy="127.6" rx="7" ry="11" transform="rotate(31 211.8 127.6)"/>
<ellipse class="t" cx="211.8" cy="127.6" rx="4" ry="6.5" transform="rotate(31 211.8 127.6)"/>
<ellipse class="k" cx="212" cy="127.4" rx="1.8" ry="3" transform="rotate(31 212 127.4)"/>
<!-- centerline -->
<path class="t" d="M219 131.5L222.5 134"/>
<!-- shaft -->
<path class="w" d="M253 149L226.6 133.3C223.5 132 220.5 134.5 221.6 137C221.8 138.5 222 139.2 222.2 139.6L248.6 155.3"/>
<ellipse class="w" cx="254.5" cy="155.2" rx="4.6" ry="8.6" transform="rotate(31 254.5 155.2)"/>
<ellipse class="w" cx="256.5" cy="156.4" rx="4.2" ry="8" transform="rotate(31 256.5 156.4)"/>
<path class="w" d="M258.5 151.5L266 156.5C268.5 158.5 268 162 266.5 163.5L263 164.5L255.5 160.5Z"/>
<path class="t" d="M264.5 156C263 158 262 161 262.5 164"/>
<path class="t" d="M268 163L270.5 164.5"/>

</g>
<g id="p09b_gear">
<path class="w" d="M315.2 167.6L316.2 160.4Q316.3 156.7 313.5 155.8L313.2 163.4Z" style="stroke-width:2.4"/>
<path class="w" d="M312.2 161.9L311.0 153.0Q310.2 149.6 307.2 149.9L309.3 159.1Z" style="stroke-width:2.4"/>
<path class="w" d="M308.0 158.3L304.1 148.2Q302.5 145.4 299.6 146.8L304.4 157.1Z" style="stroke-width:2.4"/>
<path class="w" d="M303.0 157.0L296.1 146.4Q293.8 144.4 291.3 146.9L299.0 157.6Z" style="stroke-width:2.4"/>
<path class="w" d="M297.5 158.2L287.8 147.8Q285.0 146.9 283.1 150.0L293.7 160.6Z" style="stroke-width:2.4"/>
<path class="w" d="M292.2 161.8L279.9 152.3Q276.9 152.4 275.8 156.0L288.8 165.7Z" style="stroke-width:2.4"/>
<path class="w" d="M287.6 167.5L273.1 159.3Q270.2 160.6 270.1 164.3L284.8 172.5Z" style="stroke-width:2.4"/>
<path class="w" d="M284.0 174.7L268.3 168.3Q265.7 170.6 266.5 174.1L282.3 180.4Z" style="stroke-width:2.4"/>
<path class="w" d="M281.8 182.7L265.7 178.5Q263.7 181.5 265.3 184.4L281.3 188.6Z" style="stroke-width:2.4"/>
<path class="w" d="M281.3 190.8L265.6 188.7Q264.5 192.3 266.8 194.3L281.9 196.2Z" style="stroke-width:2.4"/>
<path class="w" d="M282.4 198.2L268.1 198.2Q267.9 201.9 270.6 202.9L284.2 202.7Z" style="stroke-width:2.4"/>
<path class="w" d="M285.1 204.2L272.9 205.9Q273.6 209.4 276.6 209.3L287.9 207.3Z" style="stroke-width:2.4"/>
<path class="w" d="M289.2 208.3L279.6 211.2Q281.1 214.1 284.0 212.9L292.7 209.7Z" style="stroke-width:2.4"/>
<path class="w" d="M294.1 210.0L287.5 213.5Q289.7 215.6 292.3 213.4L298.0 209.7Z" style="stroke-width:2.4"/>
<path class="m" d="M314.3 160.6L310.2 156.7" style="stroke-width:1.2"/>
<path class="m" d="M309.7 156.2L304.4 151.8" style="stroke-width:1.2"/>
<path class="m" d="M304.1 154.4L297.4 149.7" style="stroke-width:1.2"/>
<path class="m" d="M298.1 155.3L290.0 150.4" style="stroke-width:1.2"/>
<path class="m" d="M292.1 158.9L282.8 153.9" style="stroke-width:1.2"/>
<path class="m" d="M286.8 164.8L276.6 159.8" style="stroke-width:1.2"/>
<path class="m" d="M282.6 172.5L271.8 167.7" style="stroke-width:1.2"/>
<path class="m" d="M280.0 181.3L269.0 176.7" style="stroke-width:1.2"/>
<path class="m" d="M279.2 190.2L268.4 186.1" style="stroke-width:1.2"/>
<path class="m" d="M280.2 198.5L270.1 194.9" style="stroke-width:1.2"/>
<path class="m" d="M283.1 205.4L274.0 202.2" style="stroke-width:1.2"/>
<path class="m" d="M287.4 210.2L279.5 207.5" style="stroke-width:1.2"/>
<path class="m" d="M292.8 212.5L286.3 210.2" style="stroke-width:1.2"/>
<ellipse class="w" cx="299" cy="183.5" rx="17" ry="27" transform="rotate(14 299 183.5)" style="stroke-width:1.7"/>
<path class="t" d="M305.3 176.5 L297.7 185.3 L293.3 196.6 L293.9 205.4"/>
<path class="w" d="M295.3 185.2 L300.9 174.8 L304.0 173.3 L310.4 176.4 L318.3 172.1 L316.7 166.9 L320.3 165.3 L323.1 168.5 L330.2 172.1 L331.4 178.0 L331.8 189.9 L327.9 193.1 L323.1 197.9 L320.7 202.6 L311.2 209.0 L308.0 207.4 L301.7 209.8 L295.7 205.8 L294.5 194.7Z" style="stroke-width:2"/>
<path class="t" d="M300.9 174.8 L299.3 181.2 L295.3 185.2" style="stroke-width:1.5"/>
<path class="t" d="M304.0 173.3 L304.8 178.8 L310.4 181.2 L310.4 176.4" style="stroke-width:1.5"/>
<path class="t" d="M299.3 181.2 L304.8 178.8" style="stroke-width:1.5"/>
<path class="t" d="M318.3 172.1 L319.9 174.8 L327.9 172.6 L330.2 172.1" style="stroke-width:1.5"/>
<path class="t" d="M319.9 174.8 L320.7 178.8 L330.6 176.4" style="stroke-width:1.5"/>
<path class="t" d="M296.9 188.3 L308.8 182.8" style="stroke-width:1.5"/>
<path class="t" d="M296.9 193.1 L308.0 188.3" style="stroke-width:1.5"/>
<path class="t" d="M299.3 201.0 L308.8 196.3" style="stroke-width:1.5"/>
<path class="t" d="M311.2 209.0 L312.0 203.4 L320.7 199.4" style="stroke-width:1.5"/>
<path class="t" d="M323.1 197.9 L322.3 193.1" style="stroke-width:1.5"/>
<path class="t" d="M310.4 181.2 L308.8 182.8" style="stroke-width:1.5"/>
<path class="k" d="M296.1 196.3 L299.7 195.3 L299.7 201.4 L296.1 200.4Z"/>
<path class="k" d="M301.7 202.0 L308.8 200.1 L308.8 204.4 L302.6 206.0Z"/>
<path class="k" d="M323.1 178.8 L329.8 177.9 L329.8 181.3 L323.1 182.1Z"/>
<path class="k" d="M324.7 186.7 L331.2 185.2 L331.2 189.9 L325.6 190.9Z"/>
<path class="k" d="M303.3 189.9 L308.0 188.7 L308.0 192.3 L303.7 193.5Z"/>
<ellipse class="w" cx="316.3" cy="189.9" rx="6.6" ry="8.6" transform="rotate(22 316.3 189.9)" style="stroke-width:2.2"/>
<ellipse class="w" cx="317.1" cy="190.3" rx="3.8" ry="5.6" transform="rotate(22 317.1 190.3)" style="stroke-width:2"/>
<path class="m" d="M311.6 187.1 L321.1 183.6" style="stroke-width:2.6"/>
<path class="m" d="M308.8 196.3 L318.3 198.3 L323.1 194.7" style="stroke-width:2.2"/>
<path class="m" d="M323.5 197.8 L330.4 202.2"/>
<ellipse class="w" cx="339.5" cy="206.70000000000002" rx="6.5" ry="10.5" transform="rotate(28 339.5 206.70000000000002)" style="stroke-width:1.8"/>
<ellipse class="w" cx="342.7" cy="208.4" rx="6.5" ry="10.5" transform="rotate(28 342.7 208.4)" style="stroke-width:1.8"/>
<ellipse class="t" cx="343.2" cy="208.9" rx="3.2" ry="5.2" transform="rotate(28 343.2 208.9)"/>
<ellipse class="k" cx="343.7" cy="209.1" rx="1.4" ry="2.4" transform="rotate(28 343.7 209.1)"/>
<path class="m" d="M344.8 210.4 L351.7 215.4"/>
</g>
<g id="p10_bearing">
<ellipse class="w" cx="355.6" cy="278.4" rx="24.5" ry="40.0" transform="rotate(22 355.6 278.4)" />
<path class="w" d="M366.4 240.3L380.4 245.3L358.8 321.5L344.8 316.5Z" style="stroke:none"/>
<path class="m" d="M366.4 240.3L380.4 245.3M358.8 321.5L344.8 316.5"/>
<ellipse class="w" cx="369.6" cy="283.4" rx="24.5" ry="40.0" transform="rotate(22 369.6 283.4)" />
<ellipse class="t" cx="369.6" cy="283.4" rx="22.8" ry="37.2" transform="rotate(22 369.6 283.4)" />
<ellipse class="m" cx="369.6" cy="283.4" rx="21.3" ry="34.8" transform="rotate(22 369.6 283.4)" />
<ellipse class="w" cx="384.3" cy="294.9" rx="3.0" ry="4.2" transform="rotate(22.0 384.3 294.9)" style="stroke-width:1.8"/>
<ellipse class="w" cx="375.4" cy="306.4" rx="3.0" ry="4.2" transform="rotate(22.0 375.4 306.4)" style="stroke-width:1.8"/>
<ellipse class="w" cx="364.9" cy="311.7" rx="3.0" ry="4.2" transform="rotate(22.0 364.9 311.7)" style="stroke-width:1.8"/>
<ellipse class="w" cx="355.7" cy="309.4" rx="3.0" ry="4.2" transform="rotate(22.0 355.7 309.4)" style="stroke-width:1.8"/>
<ellipse class="w" cx="350.2" cy="300.2" rx="3.0" ry="4.2" transform="rotate(22.0 350.2 300.2)" style="stroke-width:1.8"/>
<ellipse class="w" cx="349.9" cy="286.4" rx="3.0" ry="4.2" transform="rotate(22.0 349.9 286.4)" style="stroke-width:1.8"/>
<ellipse class="w" cx="354.9" cy="271.9" rx="3.0" ry="4.2" transform="rotate(22.0 354.9 271.9)" style="stroke-width:1.8"/>
<ellipse class="w" cx="363.8" cy="260.4" rx="3.0" ry="4.2" transform="rotate(22.0 363.8 260.4)" style="stroke-width:1.8"/>
<ellipse class="w" cx="374.3" cy="255.1" rx="3.0" ry="4.2" transform="rotate(22.0 374.3 255.1)" style="stroke-width:1.8"/>
<ellipse class="w" cx="383.5" cy="257.4" rx="3.0" ry="4.2" transform="rotate(22.0 383.5 257.4)" style="stroke-width:1.8"/>
<ellipse class="w" cx="389.0" cy="266.6" rx="3.0" ry="4.2" transform="rotate(22.0 389.0 266.6)" style="stroke-width:1.8"/>
<ellipse class="w" cx="389.3" cy="280.4" rx="3.0" ry="4.2" transform="rotate(22.0 389.3 280.4)" style="stroke-width:1.8"/>
<ellipse class="w" cx="369.6" cy="283.4" rx="15.2" ry="24.8" transform="rotate(22 369.6 283.4)" />
<ellipse class="t" cx="369.6" cy="283.4" rx="13.5" ry="22.0" transform="rotate(22 369.6 283.4)" />
<ellipse class="w" cx="369.6" cy="283.4" rx="11.3" ry="18.4" transform="rotate(22 369.6 283.4)" />
<clipPath id="brgclip"><ellipse cx="369.6" cy="283.4" rx="11.3" ry="18.4" transform="rotate(22 369.6 283.4)"/></clipPath>
<g clip-path="url(#brgclip)"><ellipse class="m" cx="357.6" cy="278.9" rx="11.3" ry="18.4" transform="rotate(22 357.6 278.9)" /></g>
</g>
<g id="p11_13">
<!-- washer 11 -->
<path class="w" d="M202 267.6V270.4A12 5.4 0 0 0 226 270.4V267.6"/>
<ellipse class="w" cx="214" cy="267.6" rx="12" ry="5.3"/>
<ellipse class="k" cx="214" cy="267.2" rx="5" ry="2.1" style="fill:#333"/>
<!-- clip 12 -->
<path class="m" d="M196.8 287.6L177 277.2C172.5 275.3 167.5 276.8 167.2 279C167.6 280.8 170.5 280.6 173 279.8L177.8 280.6" style="stroke-width:4.6"/>
<path class="m" d="M196.8 287.6L177 277.2C172.5 275.3 167.5 276.8 167.2 279C167.6 280.8 170.5 280.6 173 279.8L177.8 280.6" style="stroke:#fff;stroke-width:1.3"/>
<path class="m" d="M173.5 281C172.3 282.2 172.8 283.4 175 283.8C177.6 284.2 178.4 285.6 179.4 287.6C180.6 289.4 183 288.4 184.6 289.2C186.2 290.2 186.4 292 188.2 293.4" style="stroke-width:2.4"/>
<circle class="k" cx="188.6" cy="293.8" r="1.6"/>
<!-- arm 13 -->
<path class="w" d="M208.2 347V286L209.6 284.5L218.6 291.6L218.3 345C218.6 350.5 222 354 230.3 354.5L250.4 355.2C256 355 259 356 259.2 361C259.4 366 257.5 367.6 254 367L245.3 364.6L221.5 363.3C213 362 209 356 208.2 347Z"/>
<path class="t" d="M209.9 287V339M216.8 293V340M209.6 284.5L210.5 291.5L218.6 291.6"/>
<path class="k" d="M207 339H210V347H207ZM214.5 342H218.5V347H214.5Z"/>
<path class="t" d="M252.5 357.5C248 357 245.5 360.5 246.5 364.5M252.5 357.5C250 359 249.5 363 251 365.5"/>

</g>
</g>
</svg>
</body></html>
